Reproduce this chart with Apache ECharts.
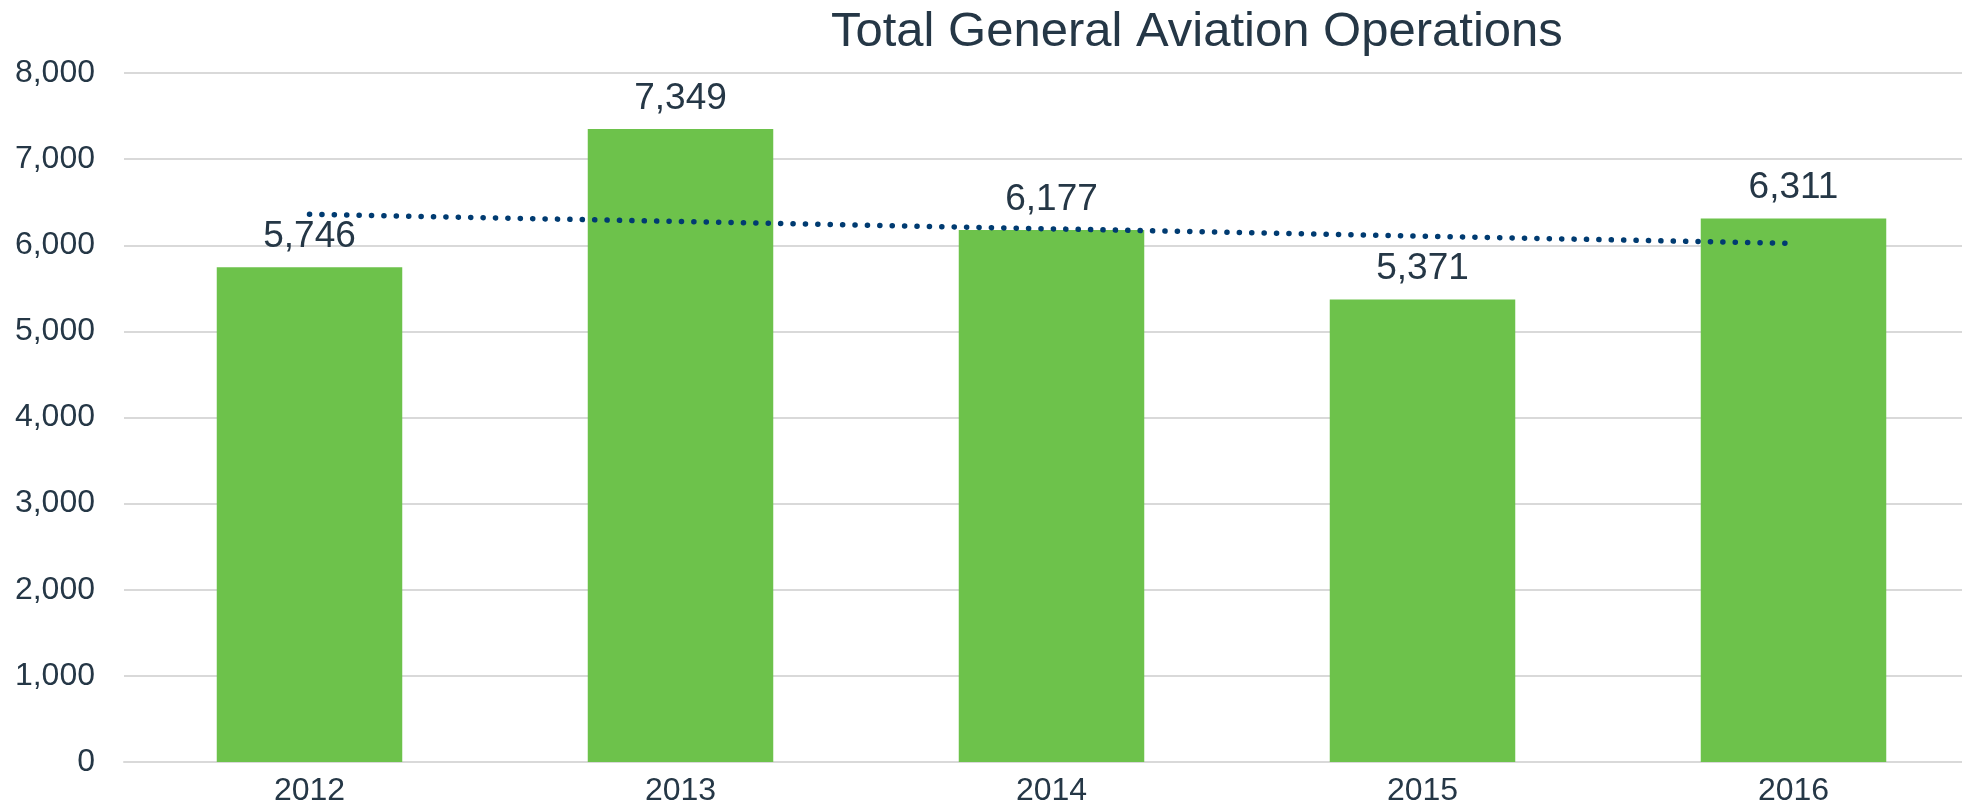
<!DOCTYPE html>
<html>
<head>
<meta charset="utf-8">
<script src="https://cdn.jsdelivr.net/npm/echarts@6/dist/echarts.min.js"></script>
<style>
  html, body { margin: 0; padding: 0; background: #fff; }
  #chart { width: 1962px; height: 807px; }
</style>
</head>
<body>
<div id="chart"></div>
<script>
// data
const years = ['2012', '2013', '2014', '2015', '2016'];
const operations = [5746, 7349, 6177, 5371, 6311];
// linear trendline as drawn: only its two ends are read
const trendEnds = [6360, null, null, null, 6021];
const yTicks = [0, 8000, 1000];

const textColor = '#253746';
const font = 'Liberation Sans, Arial, sans-serif';

const myChart = echarts.init(document.getElementById('chart'));
myChart.setOption({
  animation: false,
  title: {
    text: 'Total General Aviation Operations',
    left: 831,
    top: 8,
    padding: 0,
    textStyle: { color: textColor, fontSize: 49, fontWeight: 'normal', fontFamily: font }
  },
  grid: { left: 124, top: 73, width: 1855, bottom: 45, containLabel: false, outerBoundsMode: 'none' },
  xAxis: {
    type: 'category',
    data: years,
    axisTick: { show: false },
    axisLine: { lineStyle: { color: '#d9d9d9', width: 2 } },
    axisLabel: { color: textColor, fontSize: 32, fontFamily: font, margin: 13 }
  },
  yAxis: {
    type: 'value',
    min: yTicks[0],
    max: yTicks[1],
    interval: yTicks[2],
    axisLine: { show: false },
    axisTick: { show: false },
    splitLine: { lineStyle: { color: '#d9d9d9', width: 2 } },
    axisLabel: {
      color: textColor, fontSize: 32, fontFamily: font, margin: 29,
      formatter: v => v.toLocaleString('en-US')
    }
  },
  series: [
    {
      type: 'bar',
      data: operations,
      barWidth: '50%',
      itemStyle: { color: '#6dc24b' },
      label: {
        show: true,
        position: 'top',
        distance: 12,
        color: textColor,
        fontSize: 37,
        fontFamily: font,
        formatter: p => p.value.toLocaleString('en-US')
      }
    },
    {
      type: 'line',
      data: trendEnds,
      connectNulls: true,
      symbol: 'none',
      z: 5,
      lineStyle: { color: '#003b71', width: 5.5, type: [0.1, 12.3], cap: 'round' }
    }
  ]
});
</script>
</body>
</html>
